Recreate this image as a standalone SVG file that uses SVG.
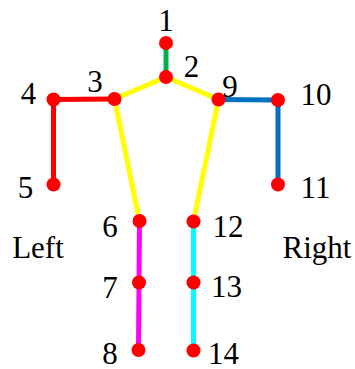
<svg xmlns="http://www.w3.org/2000/svg" width="355" height="369" viewBox="0 0 355 369">
<defs>
<circle id="dot" r="7" fill="#ff0000"/>
</defs>
<rect width="355" height="369" fill="#fff"/>
<g id="connectors" stroke-width="5" fill="none">
<line x1="166" y1="43" x2="166" y2="77" stroke="#00b050"/>
<line x1="166" y1="77" x2="114.5" y2="99" stroke="#ffff00"/>
<line x1="166" y1="77" x2="218.5" y2="99.5" stroke="#ffff00"/>
<line x1="114.5" y1="99" x2="53.5" y2="99.5" stroke="#ff0000"/>
<line x1="53.5" y1="99.5" x2="53.5" y2="184.5" stroke="#ff0000"/>
<line x1="218.5" y1="99.5" x2="278" y2="100" stroke="#0070c0"/>
<line x1="278" y1="100" x2="278" y2="184.5" stroke="#0070c0"/>
<line x1="114.5" y1="99" x2="139.5" y2="221" stroke="#ffff00"/>
<line x1="218.5" y1="99.5" x2="193.5" y2="221.5" stroke="#ffff00"/>
<polyline points="139.5,221 139,282.5 138.5,350" stroke="#ff00ff"/>
<polyline points="193.5,221.5 193.5,282.5 193.5,350.5" stroke="#00ffff"/>
</g>
<g id="n1"><use href="#dot" x="166" y="43"/><text x="166" y="31" font-family="Liberation Serif, serif" font-size="31" text-anchor="middle">1</text></g>
<g id="n2"><use href="#dot" x="166" y="77"/><text x="191.5" y="77" font-family="Liberation Serif, serif" font-size="31" text-anchor="middle">2</text></g>
<g id="n3"><use href="#dot" x="114.5" y="99"/><text x="95" y="92" font-family="Liberation Serif, serif" font-size="31" text-anchor="middle">3</text></g>
<g id="n4"><use href="#dot" x="53.5" y="99.5"/><text x="28.5" y="104" font-family="Liberation Serif, serif" font-size="31" text-anchor="middle">4</text></g>
<g id="n5"><use href="#dot" x="53.5" y="184.5"/><text x="25.5" y="198" font-family="Liberation Serif, serif" font-size="31" text-anchor="middle">5</text></g>
<g id="n6"><use href="#dot" x="139.5" y="221"/><text x="110" y="237" font-family="Liberation Serif, serif" font-size="31" text-anchor="middle">6</text></g>
<g id="n7"><use href="#dot" x="139" y="282.5"/><text x="110" y="298" font-family="Liberation Serif, serif" font-size="31" text-anchor="middle">7</text></g>
<g id="n8"><use href="#dot" x="138.5" y="350"/><text x="110" y="364" font-family="Liberation Serif, serif" font-size="31" text-anchor="middle">8</text></g>
<g id="n9"><use href="#dot" x="218.5" y="99.5"/><text x="230" y="97" font-family="Liberation Serif, serif" font-size="31" text-anchor="middle">9</text></g>
<g id="n10"><use href="#dot" x="278" y="100"/><text x="316" y="105" font-family="Liberation Serif, serif" font-size="31" text-anchor="middle">10</text></g>
<g id="n11"><use href="#dot" x="278" y="184.5"/><text x="315.5" y="198" font-family="Liberation Serif, serif" font-size="31" text-anchor="middle">11</text></g>
<g id="n12"><use href="#dot" x="193.5" y="221.5"/><text x="228" y="237" font-family="Liberation Serif, serif" font-size="31" text-anchor="middle">12</text></g>
<g id="n13"><use href="#dot" x="193.5" y="282.5"/><text x="226.5" y="297" font-family="Liberation Serif, serif" font-size="31" text-anchor="middle">13</text></g>
<g id="n14"><use href="#dot" x="193.5" y="350.5"/><text x="223.5" y="364" font-family="Liberation Serif, serif" font-size="31" text-anchor="middle">14</text></g>
<text x="38" y="258" font-family="Liberation Serif, serif" font-size="31" text-anchor="middle">Left</text>
<text x="317" y="258" font-family="Liberation Serif, serif" font-size="31" text-anchor="middle">Right</text>
</svg>
